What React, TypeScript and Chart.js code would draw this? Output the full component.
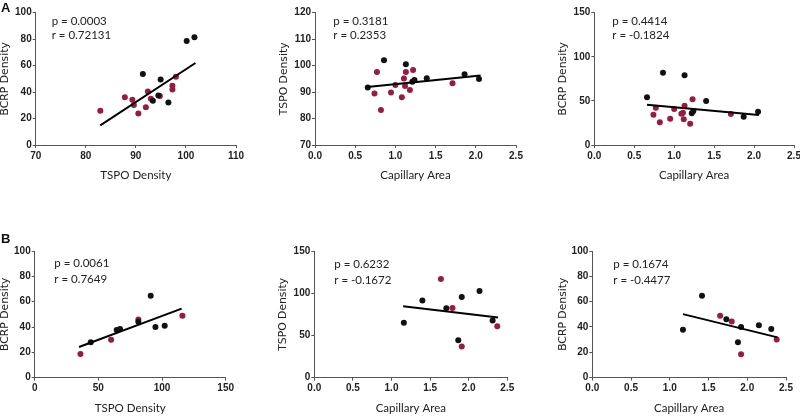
import React, { useEffect, useRef } from "react";
import { Chart, registerables } from "chart.js";

Chart.register(...registerables);

type Pt = { x: number; y: number };

// ---------- Data ----------
// Panel A1: BCRP Density vs TSPO Density
const a1Black: Pt[] = [
  { x: 91.4, y: 53.6 }, { x: 94.95, y: 49.6 }, { x: 100.15, y: 78.6 }, { x: 101.7, y: 81.4 },
  { x: 94.5, y: 37.5 }, { x: 93.4, y: 33.4 }, { x: 96.5, y: 32.2 },
];
const a1Red: Pt[] = [
  { x: 82.9, y: 25.9 }, { x: 87.8, y: 36.0 }, { x: 89.3, y: 34.2 }, { x: 89.6, y: 30.2 },
  { x: 90.5, y: 23.9 }, { x: 92.0, y: 28.5 }, { x: 92.4, y: 40.5 }, { x: 93.0, y: 35.0 },
  { x: 94.8, y: 37.0 }, { x: 97.3, y: 44.8 }, { x: 97.3, y: 42.0 }, { x: 98.0, y: 51.5 },
];
const a1Fit: Pt[] = [{ x: 82.9, y: 14.8 }, { x: 101.9, y: 62.0 }];

// Panel A2: TSPO Density vs Capillary Area
const a2Black: Pt[] = [
  { x: 0.656, y: 91.7 }, { x: 0.858, y: 102.0 }, { x: 1.13, y: 100.5 }, { x: 1.21, y: 93.9 },
  { x: 1.237, y: 94.6 }, { x: 1.39, y: 95.2 }, { x: 1.86, y: 96.7 }, { x: 2.04, y: 94.9 },
];
const a2Red: Pt[] = [
  { x: 0.77, y: 97.6 }, { x: 0.74, y: 89.5 }, { x: 0.82, y: 83.2 }, { x: 0.945, y: 89.8 },
  { x: 1.0, y: 92.7 }, { x: 1.08, y: 88.0 }, { x: 1.106, y: 95.1 }, { x: 1.12, y: 92.3 },
  { x: 1.13, y: 97.6 }, { x: 1.18, y: 90.8 }, { x: 1.22, y: 98.3 }, { x: 1.71, y: 93.3 },
];
const a2Fit: Pt[] = [{ x: 0.65, y: 91.9 }, { x: 2.06, y: 96.3 }];

// Panel A3: BCRP Density vs Capillary Area
const a3Black: Pt[] = [
  { x: 0.66, y: 54.0 }, { x: 0.86, y: 82.0 }, { x: 1.13, y: 79.0 }, { x: 1.4, y: 49.9 },
  { x: 1.22, y: 35.9 }, { x: 1.24, y: 38.5 }, { x: 1.87, y: 32.1 }, { x: 2.05, y: 37.8 },
];
const a3Red: Pt[] = [
  { x: 0.77, y: 42.3 }, { x: 0.74, y: 34.4 }, { x: 0.82, y: 25.7 }, { x: 0.95, y: 29.8 },
  { x: 1.0, y: 40.8 }, { x: 1.09, y: 35.5 }, { x: 1.11, y: 36.6 }, { x: 1.13, y: 44.6 },
  { x: 1.12, y: 29.1 }, { x: 1.2, y: 24.2 }, { x: 1.23, y: 51.8 }, { x: 1.71, y: 35.1 },
];
const a3Fit: Pt[] = [{ x: 0.66, y: 45.7 }, { x: 2.06, y: 34.0 }];

// Panel B1: BCRP Density vs TSPO Density
const b1Black: Pt[] = [
  { x: 44.0, y: 27.9 }, { x: 64.4, y: 37.6 }, { x: 67.0, y: 38.4 }, { x: 91.1, y: 64.7 },
  { x: 94.8, y: 40.0 }, { x: 102.1, y: 41.1 }, { x: 81.4, y: 44.2 },
];
const b1Red: Pt[] = [
  { x: 35.9, y: 18.7 }, { x: 60.0, y: 30.0 }, { x: 81.4, y: 46.0 }, { x: 116.0, y: 48.9 },
];
const b1Fit: Pt[] = [{ x: 34.8, y: 24.2 }, { x: 115.4, y: 54.5 }];

// Panel B2: TSPO Density vs Capillary Area
const b2Black: Pt[] = [
  { x: 1.16, y: 65.1 }, { x: 1.4, y: 91.5 }, { x: 1.71, y: 82.2 }, { x: 1.91, y: 95.4 },
  { x: 1.865, y: 44.4 }, { x: 2.14, y: 102.5 }, { x: 2.31, y: 67.8 },
];
const b2Red: Pt[] = [
  { x: 1.64, y: 116.9 }, { x: 1.79, y: 82.6 }, { x: 1.91, y: 37.0 }, { x: 2.37, y: 60.8 },
];
const b2Fit: Pt[] = [{ x: 1.15, y: 84.5 }, { x: 2.38, y: 71.3 }];

// Panel B3: BCRP Density vs Capillary Area
const b3Black: Pt[] = [
  { x: 1.17, y: 37.7 }, { x: 1.416, y: 64.7 }, { x: 1.73, y: 46.0 }, { x: 1.92, y: 40.0 },
  { x: 1.88, y: 27.8 }, { x: 2.15, y: 41.3 }, { x: 2.31, y: 38.4 },
];
const b3Red: Pt[] = [
  { x: 1.65, y: 48.8 }, { x: 1.8, y: 44.2 }, { x: 1.92, y: 18.4 }, { x: 2.38, y: 30.1 },
];
const b3Fit: Pt[] = [{ x: 1.17, y: 50.1 }, { x: 2.39, y: 31.7 }];

// Statistics shown in each panel
const pValues = ["0.0003", "0.3181", "0.4414", "0.0061", "0.6232", "0.1674"];
const rValues = ["0.72131", "0.2353", "-0.1824", "0.7649", "-0.1672", "-0.4477"];

// Axis titles and ranges
const xTitles = ["TSPO Density", "Capillary Area", "Capillary Area", "TSPO Density", "Capillary Area", "Capillary Area"];
const yTitles = ["BCRP Density", "TSPO Density", "BCRP Density", "BCRP Density", "TSPO Density", "BCRP Density"];
const xRanges = [[70, 110, 10], [0, 2.5, 0.5], [0, 2.5, 0.5], [0, 150, 50], [0, 2.5, 0.5], [0, 2.5, 0.5]];
const yRanges = [[0, 100, 20], [70, 120, 10], [0, 150, 50], [0, 100, 20], [0, 150, 50], [0, 100, 20]];
const xDecimals = [0, 1, 1, 0, 1, 1];

// ---------- Styles ----------
const BLACK = "#111111";
const RED = "#9a1a40";
const AXIS = "#555555";
const TICK_COLOR = "#222222";
const TEXT_COLOR = "#222222";
const Y_TITLE_FONT = { family: "'DejaVu Sans'", size: 10.8, lineHeight: 1.2 };
const X_TITLE_FONT = { family: "Lato", size: 11.5, lineHeight: 1.2 };
const TICK_FONT = { family: "'Liberation Sans'", size: 10, weight: "bold" as const };
const STAT_FONT = "11.5px Lato";

type Layout = {
  chartLeft: number; chartRight: number; chartTop: number; chartBottom: number;
  yTitleX: number; xTitleY: number; textDx: number; textDy1: number; textDy2: number;
};

const layouts: Layout[] = [
  { chartLeft: 35.7, chartRight: 236, chartTop: 12.7, chartBottom: 145, yTitleX: 5.5, xTitleY: 175, textDx: 16, textDy1: 12.3, textDy2: 26.6 },
  { chartLeft: 315, chartRight: 516, chartTop: 12.7, chartBottom: 145, yTitleX: 284.5, xTitleY: 175, textDx: 18.3, textDy1: 12.3, textDy2: 26.6 },
  { chartLeft: 594.3, chartRight: 794, chartTop: 12.7, chartBottom: 145, yTitleX: 563.5, xTitleY: 175, textDx: 18, textDy1: 12.3, textDy2: 26.6 },
  { chartLeft: 34.7, chartRight: 225.7, chartTop: 251, chartBottom: 377.7, yTitleX: 5.5, xTitleY: 408, textDx: 19.6, textDy1: 16.3, textDy2: 32.3 },
  { chartLeft: 314.3, chartRight: 507.3, chartTop: 251, chartBottom: 377.7, yTitleX: 283.5, xTitleY: 408, textDx: 20, textDy1: 17, textDy2: 33 },
  { chartLeft: 592.3, chartRight: 786, chartTop: 251, chartBottom: 377.5, yTitleX: 563.5, xTitleY: 408, textDx: 21, textDy1: 17, textDy2: 33 },
];

const blacks = [a1Black, a2Black, a3Black, b1Black, b2Black, b3Black];
const reds = [a1Red, a2Red, a3Red, b1Red, b2Red, b3Red];
const fits = [a1Fit, a2Fit, a3Fit, b1Fit, b2Fit, b3Fit];

function Panel({ idx }: { idx: number }) {
  const ref = useRef<HTMLCanvasElement>(null);
  const L = layouts[idx];
  const yLH = Y_TITLE_FONT.size * Y_TITLE_FONT.lineHeight;
  const xLH = X_TITLE_FONT.size * X_TITLE_FONT.lineHeight;
  const left = Math.floor(L.yTitleX - yLH / 2);
  const top = Math.floor(L.chartTop - 12);
  const right = Math.ceil(L.chartRight + 16);
  const bottom = Math.ceil(L.xTitleY + xLH / 2);
  const W = right - left;
  const H = bottom - top;

  useEffect(() => {
    const [xmin, xmax, xstep] = xRanges[idx];
    const [ymin, ymax, ystep] = yRanges[idx];
    const statPlugin = {
      id: "stats" + idx,
      afterDraw(chart: any) {
        const { ctx, chartArea } = chart;
        ctx.save();
        ctx.font = STAT_FONT;
        ctx.fillStyle = TEXT_COLOR;
        ctx.textAlign = "left";
        ctx.textBaseline = "alphabetic";
        ctx.fillText("p = " + pValues[idx], chartArea.left + L.textDx, chartArea.top + L.textDy1);
        ctx.fillText("r = " + rValues[idx], chartArea.left + L.textDx, chartArea.top + L.textDy2);
        ctx.restore();
      },
    };
    const chart = new Chart(ref.current as HTMLCanvasElement, {
      type: "scatter",
      data: {
        datasets: [
          {
            type: "line",
            data: fits[idx],
            borderColor: "#000000",
            borderWidth: 2,
            pointRadius: 0,
            fill: false,
          } as any,
          { data: blacks[idx], backgroundColor: BLACK, borderWidth: 0, pointRadius: 3 },
          { data: reds[idx], backgroundColor: RED, borderWidth: 0, pointRadius: 3 },
        ],
      },
      options: {
        responsive: false,
        animation: false,
        devicePixelRatio: 1,
        events: [],
        layout: {
          padding: { left: 0, top: L.chartTop - top, right: right - L.chartRight, bottom: 0 },
        },
        plugins: { legend: { display: false }, tooltip: { enabled: false } },
        scales: {
          x: {
            type: "linear",
            min: xmin,
            max: xmax,
            ticks: {
              stepSize: xstep,
              autoSkip: false,
              maxRotation: 0,
              minRotation: 0,
              padding: 2,
              color: TICK_COLOR,
              font: TICK_FONT,
              callback: (v: any) => Number(v).toFixed(xDecimals[idx]),
            },
            grid: { drawOnChartArea: false, drawTicks: true, tickLength: 3, color: AXIS },
            border: { display: true, color: AXIS, width: 1 },
            title: {
              display: true,
              text: xTitles[idx],
              color: TEXT_COLOR,
              font: X_TITLE_FONT,
              padding: { top: 0, bottom: bottom - (L.xTitleY + xLH / 2) },
            },
            afterFit: (s: any) => {
              s.height = bottom - L.chartBottom;
            },
          },
          y: {
            type: "linear",
            min: ymin,
            max: ymax,
            ticks: {
              stepSize: ystep,
              autoSkip: false,
              padding: 1,
              color: TICK_COLOR,
              font: TICK_FONT,
              callback: (v: any) => String(v),
            },
            grid: { drawOnChartArea: false, drawTicks: true, tickLength: 3, color: AXIS },
            border: { display: true, color: AXIS, width: 1 },
            title: {
              display: true,
              text: yTitles[idx],
              color: TEXT_COLOR,
              font: Y_TITLE_FONT,
              padding: { top: L.yTitleX - yLH / 2 - left, bottom: 0 },
            },
            afterFit: (s: any) => {
              s.width = L.chartLeft - left;
            },
          },
        },
      } as any,
      plugins: [statPlugin],
    });
    return () => chart.destroy();
  }, []);

  return (
    <canvas
      ref={ref}
      width={W}
      height={H}
      style={{ position: "absolute", left, top, width: W, height: H }}
    />
  );
}

const panelLabelStyle: React.CSSProperties = {
  position: "absolute",
  left: 1,
  fontFamily: "'Liberation Sans', Arial, sans-serif",
  fontWeight: "bold",
  fontSize: 13,
  lineHeight: "13px",
  color: "#111",
};

export default function App() {
  return (
    <div
      style={{
        position: "absolute",
        left: 0,
        top: 0,
        width: 800,
        height: 416,
        overflow: "hidden",
        background: "#ffffff",
      }}
    >
      {layouts.map((_, i) => (
        <Panel key={i} idx={i} />
      ))}
      <div style={{ ...panelLabelStyle, top: 0.7 }}>A</div>
      <div style={{ ...panelLabelStyle, top: 232 }}>B</div>
    </div>
  );
}
